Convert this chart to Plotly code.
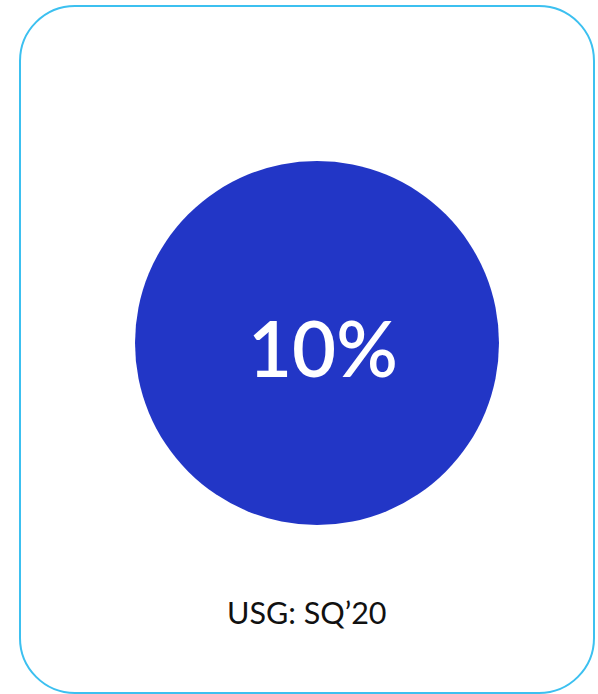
import plotly.graph_objects as go

# Share shown in the card
share_value = [10]
share_label = ["10%"]
caption = "USG: SQ\u201920"

W, H = 598, 694


def px(x):
    return x / W


def py(y):
    return 1 - y / H


# Card outline: rounded rectangle in pixel units, converted to paper units
x0, x1, y0, y1, r = 20, 594, 6, 693, 55
k = 0.5523 * r
card_path = (
    f"M {px(x0 + r)},{py(y0)} L {px(x1 - r)},{py(y0)} "
    f"C {px(x1 - r + k)},{py(y0)} {px(x1)},{py(y0 + r - k)} {px(x1)},{py(y0 + r)} "
    f"L {px(x1)},{py(y1 - r)} "
    f"C {px(x1)},{py(y1 - r + k)} {px(x1 - r + k)},{py(y1)} {px(x1 - r)},{py(y1)} "
    f"L {px(x0 + r)},{py(y1)} "
    f"C {px(x0 + r - k)},{py(y1)} {px(x0)},{py(y1 - r + k)} {px(x0)},{py(y1 - r)} "
    f"L {px(x0)},{py(y0 + r)} "
    f"C {px(x0)},{py(y0 + r - k)} {px(x0 + r - k)},{py(y0)} {px(x0 + r)},{py(y0)} Z"
)

cx, cy, rad = 317, 343, 182

fig = go.Figure(
    go.Pie(
        values=share_value,
        labels=share_label,
        textinfo="none",
        hoverinfo="label",
        sort=False,
        marker=dict(colors=["#2236C6"], line=dict(width=0)),
        domain=dict(x=[px(cx - rad), px(cx + rad)], y=[py(cy + rad), py(cy - rad)]),
        showlegend=False,
    )
)

fig.add_shape(
    type="path",
    path=card_path,
    xref="paper",
    yref="paper",
    line=dict(color="#3CC0F0", width=2),
    layer="below",
)

fig.add_annotation(
    text=share_label[0],
    x=px(323),
    y=py(347),
    xref="paper",
    yref="paper",
    showarrow=False,
    xanchor="center",
    yanchor="middle",
    font=dict(family="Lato", size=76, color="#FFFFFF", weight=600),
)

fig.add_annotation(
    text=caption,
    x=px(307),
    y=py(612),
    xref="paper",
    yref="paper",
    showarrow=False,
    xanchor="center",
    yanchor="middle",
    font=dict(family="Lato", size=30.5, color="#111111"),
)

fig.update_layout(
    width=W,
    height=H,
    margin=dict(l=0, r=0, t=0, b=0),
    paper_bgcolor="#FFFFFF",
    plot_bgcolor="#FFFFFF",
)

fig.write_html("out.html")
